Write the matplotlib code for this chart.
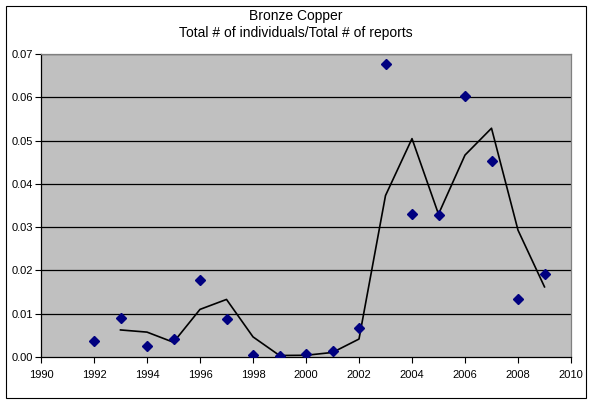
import matplotlib.pyplot as plt
from matplotlib.patches import Rectangle
from matplotlib.ticker import FormatStrFormatter, MultipleLocator
import numpy as np
import pandas as pd

plt.rcParams['font.family'] = ['Liberation Sans', 'DejaVu Sans']

years = [1992, 1993, 1994, 1995, 1996, 1997, 1998, 1999, 2000,
         2001, 2002, 2003, 2004, 2005, 2006, 2007, 2008, 2009]
ratio = [0.0036, 0.0089, 0.0026, 0.0042, 0.0178, 0.0088, 0.0005, 0.0002, 0.0006,
         0.0015, 0.0068, 0.0678, 0.0331, 0.0329, 0.0604, 0.0453, 0.0133, 0.0191]

# 2-period moving average trendline, as Excel draws it
trend = pd.Series(ratio).rolling(2).mean().to_numpy()

W, H = 593, 404
fig = plt.figure(figsize=(W / 100, H / 100), dpi=100)
fig.patch.set_facecolor('white')

# chart area border
fig.add_artist(Rectangle((5.5 / W, 1 - 397.5 / H), 580 / W, 392 / H,
                         transform=fig.transFigure, fill=False,
                         edgecolor='black', linewidth=0.8))

ax = fig.add_axes([41 / W, 1 - 357 / H, 530 / W, 303 / H])
ax.set_facecolor('#C0C0C0')

for y in np.arange(0.01, 0.0701, 0.01):
    ax.axhline(y, color='black', linewidth=0.9, zorder=1)

ax.plot(years, trend, color='black', linewidth=1.2, zorder=2)
ax.plot(years, ratio, linestyle='none', marker='D', markersize=5,
        color='#000080', zorder=3)

ax.set_xlim(1990, 2010)
ax.set_ylim(0, 0.07)
ax.xaxis.set_major_locator(MultipleLocator(2))
ax.yaxis.set_major_locator(MultipleLocator(0.01))
ax.yaxis.set_major_formatter(FormatStrFormatter('%.2f'))
ax.tick_params(direction='out', length=4, width=0.8, labelsize=8, colors='black')
ax.tick_params(axis='x', pad=5)
ax.tick_params(axis='y', pad=2)

for side in ['left', 'bottom']:
    ax.spines[side].set_color('black')
    ax.spines[side].set_linewidth(0.9)
for side in ['top', 'right']:
    ax.spines[side].set_color('#808080')
    ax.spines[side].set_linewidth(0.9)

fig.text(296 / W, 1 - 16 / H, 'Bronze Copper', ha='center', va='center', fontsize=10)
fig.text(296 / W, 1 - 33 / H, 'Total # of individuals/Total # of reports',
         ha='center', va='center', fontsize=10)

fig.savefig('out.png', dpi=100)
